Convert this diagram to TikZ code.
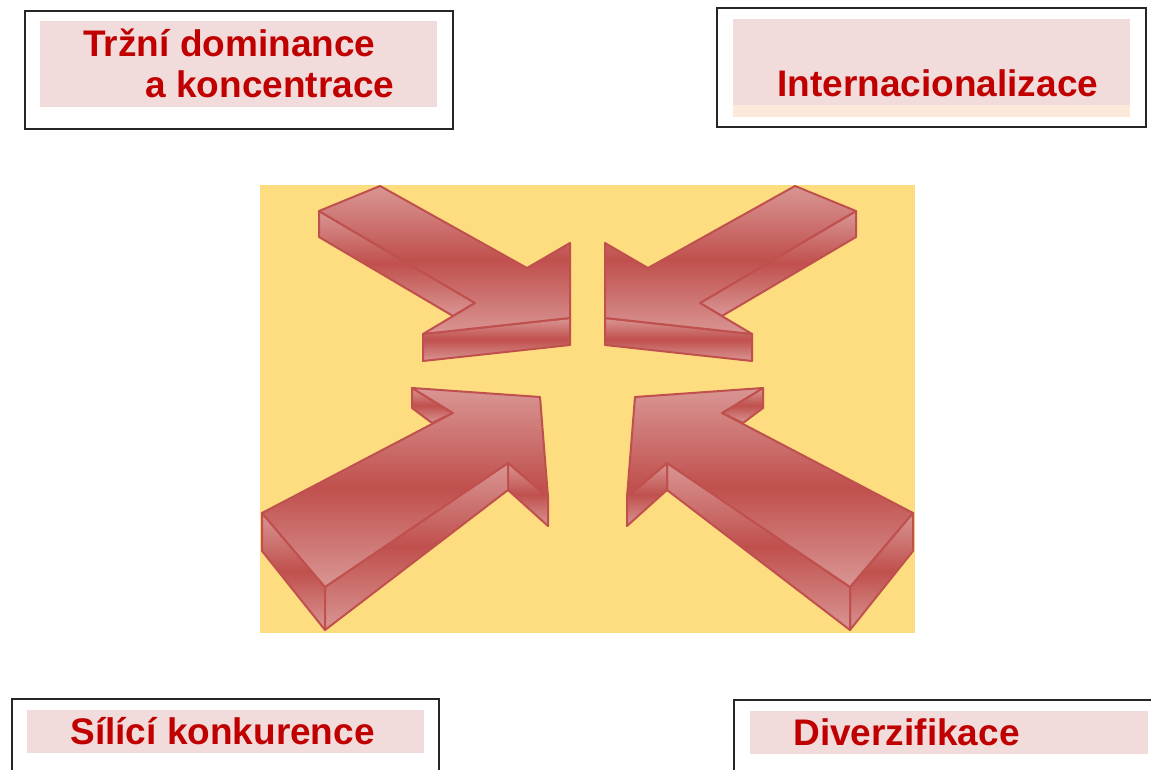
\documentclass[tikz,border=0pt]{standalone}
\usepackage{fontspec}
\setmainfont{Liberation Sans}
\usetikzlibrary{positioning}

\definecolor{trendred}{RGB}{192,0,0}
\definecolor{labelpink}{RGB}{242,220,219}
\definecolor{labelpeach}{RGB}{253,233,217}
\definecolor{bgyellow}{RGB}{253,221,128}
\definecolor{arrowdark}{RGB}{192,80,77}
\definecolor{arrowlight}{RGB}{217,150,148}

\begin{document}
\begin{tikzpicture}[x=0.5pt,y=-0.5pt,
frame/.style={
	% The thin box round a caption:
	draw=black!85, line width=0.7pt, fill=white},
labelfill/.style={
	% the pink band behind the text
	fill=labelpink, draw=none},
caption/.style={
	inner sep=0pt, anchor=base west, text=trendred,
	font=\fontsize{18.5}{22}\selectfont\bfseries},
face/.style={
	% One face of a big arrow:
	draw=arrowdark, line width=1pt, line join=round,
	% light - dark - light from top to bottom
	top color=arrowlight, bottom color=arrowlight, middle color=arrowdark},
]

\useasboundingbox (0,0) rectangle (1151,770);
\clip (0,0) rectangle (1151,770);
\fill[white] (0,0) rectangle (1151,770);

% the four trends
\draw[frame] (25,11) rectangle (453,129);
\fill[labelfill] (40,21) rectangle (437,107);
\node (trzni) [caption] at (83,57) {Tržní dominance};
\node (koncentrace) [caption] at (145,98) {a koncentrace};

\draw[frame] (717,8) rectangle (1146,127);
\fill[labelfill] (733,19) rectangle (1130,105);
\fill[labelpeach] (733,105) rectangle (1130,117);
\node (intern) [caption] at (777,97) {Internacionalizace};

\draw[frame] (12,699) rectangle (439,800);
\fill[labelfill] (27,710) rectangle (424,753);
\node (konkurence) [caption] at (70,744) {Sílící konkurence};

\draw[frame] (734,700) rectangle (1170,800);
\fill[labelfill] (750,711) rectangle (1148,754);
\node (diverz) [caption] at (793,745) {Diverzifikace};

% the arrows, left pair and mirrored right pair
\fill[bgyellow] (260,185) rectangle (915,633);

\foreach \side/\off in {1/0,-1/1175} {
\begin{scope}[shift={(\off,0)}, xscale=\side]
	% upper arrow
	\draw[face] (319,211) -- (319,237) -- (453,316) -- (475,303) -- cycle;
	\draw[face] (423,334) -- (570,318) -- (570,345) -- (423,361) -- cycle;
	\draw[face] (319,211) -- (380,186) -- (527,268) -- (570,243) -- (570,318)
		-- (423,334) -- (475,303) -- cycle;
	% lower arrow
	\draw[face] (262,513) -- (325,587) -- (325,630) -- (262,551) -- cycle;
	\draw[face] (325,587) -- (508,463) -- (508,490) -- (325,630) -- cycle;
	\draw[face] (508,463) -- (548,497) -- (548,526) -- (508,490) -- cycle;
	\draw[face] (412,388) -- (412,408) -- (432,423) -- (453,413) -- cycle;
	\draw[face] (262,513) -- (453,413) -- (412,388) -- (540,397) -- (548,497)
		-- (508,463) -- (325,587) -- cycle;
\end{scope}
}

\end{tikzpicture}
\end{document}
